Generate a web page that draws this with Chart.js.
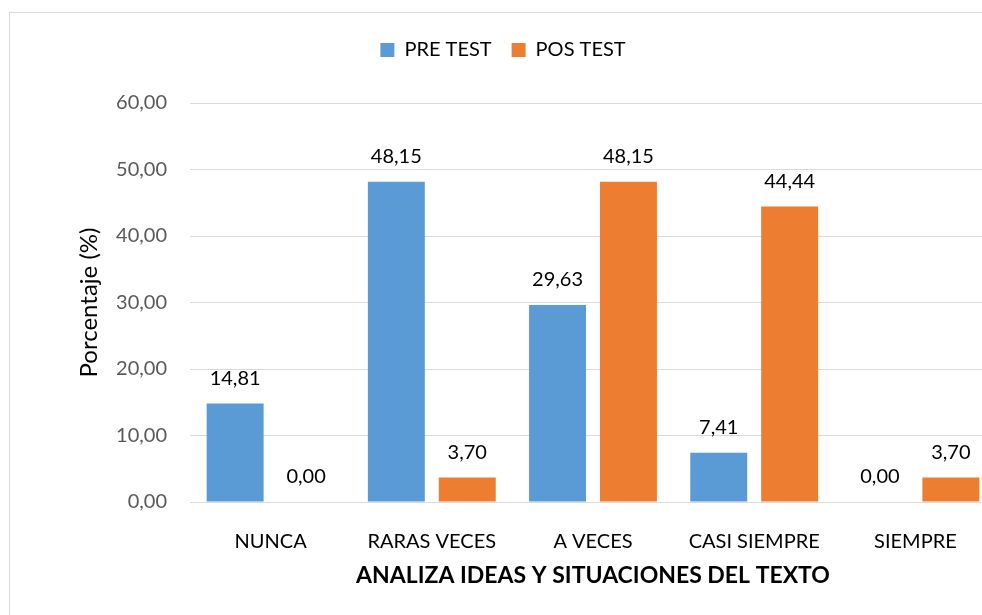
<!DOCTYPE html>
<html>
<head>
<meta charset="utf-8">
<script src="https://cdn.jsdelivr.net/npm/chart.js@4.4.1/dist/chart.umd.min.js"></script>
<style>
  html, body { margin: 0; overflow: hidden; background: #fff; width: 982px; height: 615px; }
  #frame { position: absolute; left: 9px; top: 12px; width: 1000px; height: 620px; border: 1px solid #d9d9d9; border-right: none; border-bottom: none; }
</style>
</head>
<body>
<div id="frame"><canvas id="chart1" width="997" height="610"></canvas></div>
<script>
const categories = ["NUNCA", "RARAS VECES", "A VECES", "CASI SIEMPRE", "SIEMPRE"];
const preTest = [14.81, 48.15, 29.63, 7.41, 0.00];
const posTest = [0.00, 3.70, 48.15, 44.44, 3.70];
const seriesNames = ["PRE TEST", "POS TEST"];
const yMin = 0, yMax = 60, yStep = 10;

const fontFamily = "Lato, 'Open Sans', sans-serif";
const fmt = v => v.toFixed(2).replace(".", ",");

// values above each bar
const barLabels = {
    id: "barLabels",
    afterDatasetsDraw(chart) {
        const ctx = chart.ctx;
        ctx.save();
        ctx.font = "20px " + fontFamily;
        ctx.fillStyle = "#000";
        ctx.textAlign = "center";
        ctx.textBaseline = "middle";
        chart.data.datasets.forEach((ds, i) => {
            chart.getDatasetMeta(i).data.forEach((bar, j) => {
                ctx.fillText(fmt(ds.data[j]), bar.x, bar.y - 25);
            });
        });
        ctx.restore();
    }
};

// room under the legend
const legendSpace = {
    id: "legendSpace",
    beforeInit(chart) {
        const fit = chart.legend.fit;
        chart.legend.fit = function () {
            fit.bind(chart.legend)();
            this.height = 83;
        };
    }
};

new Chart(document.getElementById("chart1"), {
    type: "bar",
    data: {
        labels: categories,
        datasets: [
            { label: seriesNames[0], data: preTest, backgroundColor: "#5b9bd5" },
            { label: seriesNames[1], data: posTest, backgroundColor: "#ed7d31" }
        ]
    },
    options: {
        responsive: false,
        animation: false,
        devicePixelRatio: 1,
        categoryPercentage: 0.88,
        barPercentage: 0.803,
        layout: { padding: { top: 7, right: 11, left: 0, bottom: 0 } },
        plugins: {
            legend: {
                position: "top",
                labels: {
                    boxWidth: 14,
                    boxHeight: 14,
                    padding: 20,
                    color: "#000",
                    font: { family: fontFamily, size: 20 }
                }
            },
            tooltip: { enabled: false }
        },
        scales: {
            x: {
                grid: { display: false },
                border: { display: false },
                ticks: { color: "#000", padding: 20, font: { family: fontFamily, size: 20 } },
                title: {
                    display: true,
                    text: "ANALIZA IDEAS Y SITUACIONES DEL TEXTO",
                    color: "#000",
                    font: { family: fontFamily, size: 23, weight: "bold" },
                    padding: { top: 0, bottom: 34 }
                },
                afterFit: s => { s.height = 121; }
            },
            y: {
                min: yMin,
                max: yMax,
                grid: { color: "#d9d9d9", lineWidth: 1, drawTicks: false },
                border: { display: false },
                ticks: {
                    stepSize: yStep,
                    padding: 23,
                    color: "#595959",
                    font: { family: fontFamily, size: 20 },
                    callback: v => fmt(v)
                },
                title: {
                    display: true,
                    text: "Porcentaje (%)",
                    color: "#000",
                    font: { family: fontFamily, size: 24 },
                    padding: { top: 65, bottom: 0 }
                },
                afterFit: s => { s.width = 180; }
            }
        }
    },
    plugins: [barLabels, legendSpace]
});
</script>
</body>
</html>
